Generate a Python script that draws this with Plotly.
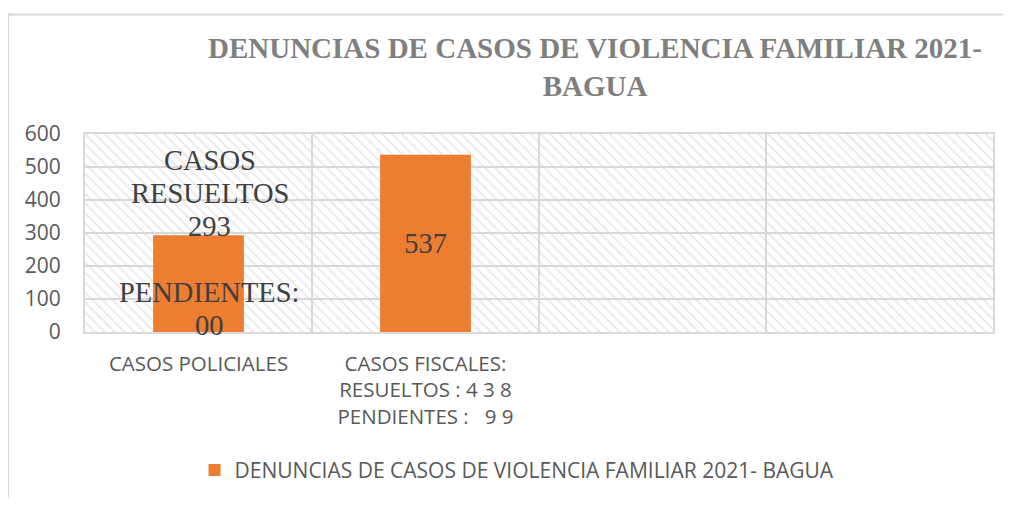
import plotly.graph_objects as go

# ---------------- data ----------------
categories = [
    "CASOS POLICIALES",
    "CASOS FISCALES:<br>RESUELTOS : 4 3 8<br>PENDIENTES :\u00a0\u00a0\u00a09 9",
    "",
    "",
]
values = [293, 537, None, None]
bar_text = ["", "537", "", ""]
policial_label_lines = ["CASOS", "RESUELTOS", "293", "", "PENDIENTES:", "00"]
series_name = "DENUNCIAS DE CASOS DE VIOLENCIA FAMILIAR 2021- BAGUA"
title_text = "DENUNCIAS DE CASOS DE VIOLENCIA FAMILIAR 2021-<br>BAGUA"
y_ticks = [0, 100, 200, 300, 400, 500, 600]

# ---------------- styling ----------------
ORANGE = "#ED7D31"
GRID = "#d9d9d9"
TICK_COLOR = "#595959"
LABEL_COLOR = "#404040"
SANS = "Open Sans"
SERIF = "Liberation Serif"

n = len(categories)
idx = list(range(n))
y_max = max(y_ticks)

# page body has an 8px margin; keep the figure inside the window (no scrollbars)
OFF = 8
W, H = 1011 - 2 * OFF, 506 - 2 * OFF
# plot area in screen pixels
SX0, SX1, SY0, SY1 = 85, 995, 134, 333
L, R = SX0 - OFF, W - (SX1 - OFF)
T, B = SY0 - OFF, H - (SY1 - OFF)
pw, ph = W - L - R, H - T - B


def px_x(p):
    return (p - SX0) / pw


def px_y(p):
    return (SY1 - p) / ph


fig = go.Figure()

# hatched plot-area background
fig.add_trace(go.Bar(
    x=[(n - 1) / 2], y=[y_max], width=n,
    marker=dict(
        color="rgba(255,255,255,0)",
        line=dict(width=0),
        pattern=dict(shape="\\", fgcolor="#d6d6d6", bgcolor="rgba(255,255,255,0)",
                     size=7, solidity=0.28),
    ),
    showlegend=False, hoverinfo="skip",
))

fig.add_trace(go.Bar(
    x=idx, y=values, width=0.4, name=series_name,
    marker=dict(color=ORANGE, line=dict(width=0)),
    text=bar_text, textposition="inside", insidetextanchor="middle",
    textangle=0,
    textfont=dict(family=SERIF, size=28.5, color=LABEL_COLOR),
))

annotations = []
for i, line in enumerate(policial_label_lines):
    if not line:
        continue
    annotations.append(dict(
        x=idx[0], y=0, xref="x", yref="y", text=line, showarrow=False,
        xshift=11, yshift=172 - 33 * i, yanchor="middle", xanchor="center",
        font=dict(family=SERIF, size=28.5, color=LABEL_COLOR),
    ))

border = dict(color=GRID, width=2)
fig.update_layout(
    width=W, height=H,
    margin=dict(l=L, r=R, t=T, b=B),
    paper_bgcolor="white", plot_bgcolor="white",
    barmode="overlay",
    title=dict(
        text="<b>" + title_text + "</b>",
        font=dict(family=SERIF, size=29, color="#7f7f7f"),
        x=(595 - OFF) / W, xanchor="center", xref="container",
        y=1 - 50 / H, yanchor="top", yref="container",
    ),
    xaxis=dict(
        range=[-0.5, n - 0.5],
        tickmode="array", tickvals=idx, ticktext=categories,
        showgrid=False, zeroline=False, ticks="",
        minor=dict(tickmode="array", tickvals=[i - 0.5 for i in range(n + 1)],
                   showgrid=True, gridcolor=GRID, gridwidth=2, ticks=""),
        showline=True, mirror=True, linecolor=GRID, linewidth=2,
        tickfont=dict(family=SANS, size=20.5, color=TICK_COLOR),
        ticklabelstandoff=12,
    ),
    yaxis=dict(
        range=[0, y_max], tickmode="array", tickvals=y_ticks,
        showgrid=True, gridcolor=GRID, gridwidth=2, zeroline=False,
        showline=True, mirror=True, linecolor=GRID, linewidth=2,
        tickfont=dict(family=SANS, size=21, color=TICK_COLOR),
        ticklabelstandoff=18,
    ),
    legend=dict(
        orientation="h", x=px_x(518), xanchor="center",
        y=px_y(472), yanchor="middle",
        font=dict(family=SANS, size=21, color=TICK_COLOR),
        bgcolor="rgba(0,0,0,0)",
    ),
    annotations=annotations,
    shapes=[
        dict(type="line", xref="paper", yref="paper",
             x0=px_x(7), x1=px_x(1011), y0=px_y(14), y1=px_y(14),
             line=border, layer="below"),
        dict(type="line", xref="paper", yref="paper",
             x0=px_x(8), x1=px_x(8), y0=px_y(13), y1=px_y(506),
             line=border, layer="below"),
    ],
)

fig.write_html("out.html")
